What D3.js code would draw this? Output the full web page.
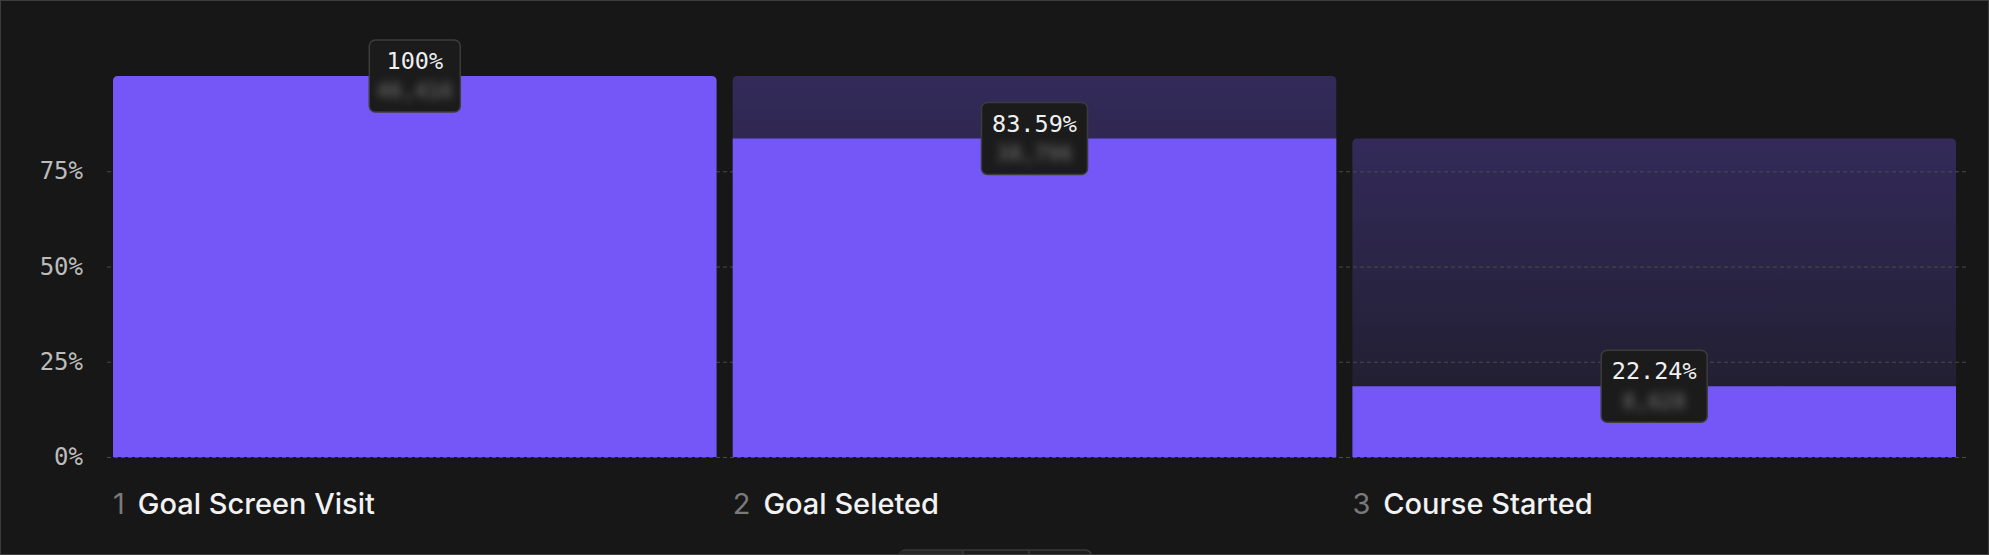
<!DOCTYPE html>
<html>
<head>
<meta charset="utf-8">
<script src="https://cdn.jsdelivr.net/npm/d3@7"></script>
<style>
  html, body { margin: 0; padding: 0; background: #171717; }
  svg { display: block; }
</style>
</head>
<body>
<div id="chart"></div>
<script>
var width = 1989;
var height = 555;

// funnel steps and step-to-step conversion (%)
var steps = ["Goal Screen Visit", "Goal Seleted", "Course Started"];
var stepRate = [100, 83.59, 22.24];
var counts = ["46,416", "38,796", "8,628"]; // blurred in the picture
var yTicks = [0, 25, 50, 75];

// overall share of the first step, drawn as bar height
var overall = [];
stepRate.forEach(function (r, i) {
  overall.push(i == 0 ? r : overall[i - 1] * r / 100);
});

var margin = {top: 76, right: 33, bottom: 98, left: 113};

var x = d3.scaleBand()
  .domain(steps)
  .range([margin.left, width - margin.right])
  .paddingInner(0.026);

var y = d3.scaleLinear()
  .domain([0, 100])
  .range([height - margin.bottom, margin.top]);

var svg = d3.select("#chart")
  .append("svg")
    .attr("width", width)
    .attr("height", height);

var defs = svg.append("defs");
var grad = defs.append("linearGradient")
  .attr("id", "bgGrad")
  .attr("x1", 0).attr("y1", 0).attr("x2", 0).attr("y2", 1);
grad.append("stop").attr("offset", "0%").attr("stop-color", "#7457f6").attr("stop-opacity", 0.3);
grad.append("stop").attr("offset", "100%").attr("stop-color", "#7457f6").attr("stop-opacity", 0.07);

defs.append("filter").attr("id", "blur")
  .attr("x", "-30%").attr("y", "-100%").attr("width", "160%").attr("height", "300%")
  .append("feGaussianBlur").attr("stdDeviation", 4.5);

// rect with rounded top corners only
function topRounded(x0, y0, w, h, r) {
  return "M" + x0 + "," + (y0 + h) +
    "V" + (y0 + r) +
    "Q" + x0 + "," + y0 + " " + (x0 + r) + "," + y0 +
    "H" + (x0 + w - r) +
    "Q" + (x0 + w) + "," + y0 + " " + (x0 + w) + "," + (y0 + r) +
    "V" + (y0 + h) + "Z";
}

// background of each step = level of previous step
svg.selectAll("path.bg")
  .data(steps.slice(1))
  .enter()
    .append("path")
      .attr("class", "bg")
      .attr("fill", "url(#bgGrad)")
      .attr("d", function (d, i) {
        var top = y(overall[i]);
        return topRounded(x(d), top, x.bandwidth(), y(0) - top, 5);
      });

// y axis
var yAxis = d3.axisLeft(y)
  .tickValues(yTicks)
  .tickSize(-(width - margin.left - margin.right + 16))
  .tickFormat(function (d) { return d + "%"; });

var gy = svg.append("g")
  .attr("transform", "translate(" + (margin.left - 6) + ",0)")
  .call(yAxis);
gy.select(".domain").remove();
gy.selectAll(".tick line")
  .attr("stroke", "#4a4a4a")
  .attr("stroke-dasharray", "4,3");
gy.selectAll(".tick text")
  .attr("fill", "#bcbcbc")
  .attr("x", -24)
  .style("font-family", "'DejaVu Sans Mono', monospace")
  .style("font-size", "24px");

// bars
svg.selectAll("path.bar")
  .data(steps)
  .enter()
    .append("path")
      .attr("class", "bar")
      .attr("fill", "#7457f6")
      .attr("d", function (d, i) {
        var top = y(overall[i]);
        return topRounded(x(d), top, x.bandwidth(), y(0) - top, i == 0 ? 5 : 0.01);
      });

// step labels
var labels = svg.selectAll("g.step")
  .data(steps)
  .enter()
    .append("g")
      .attr("class", "step")
      .attr("transform", function (d) { return "translate(" + x(d) + ",514)"; })
      .style("font-family", "Inter, sans-serif")
      .style("font-size", "29px")
      .style("font-weight", 500);
labels.append("text")
  .attr("class", "num")
  .attr("fill", "#7a7a7a")
  .style("font-weight", 400)
  .text(function (d, i) { return i + 1; });
labels.append("text")
  .attr("x", function () {
    return this.parentNode.querySelector(".num").getComputedTextLength() + 13;
  })
  .attr("fill", "#f2f2f2")
  .text(function (d) { return d; });

// value tips
var tips = svg.selectAll("g.tip")
  .data(steps)
  .enter()
    .append("g")
      .attr("class", "tip")
      .attr("transform", function (d, i) {
        return "translate(" + (x(d) + x.bandwidth() / 2) + "," + y(overall[i]) + ")";
      });

tips.append("rect")
  .attr("x", function (d, i) { return -(stepRate[i] == 100 ? 91 : 106) / 2; })
  .attr("y", -36)
  .attr("width", function (d, i) { return stepRate[i] == 100 ? 91 : 106; })
  .attr("height", 72)
  .attr("rx", 6)
  .attr("fill", "#1b1b1c")
  .attr("stroke", "#3c3c3e")
  .attr("stroke-width", 1.5);

tips.append("text")
  .attr("text-anchor", "middle")
  .attr("y", -15)
  .attr("dy", "0.35em")
  .attr("fill", "#f0f0f0")
  .style("font-family", "'DejaVu Sans Mono', monospace")
  .style("font-size", "23.5px")
  .text(function (d, i) { return stepRate[i] + "%"; });

tips.append("text")
  .attr("text-anchor", "middle")
  .attr("y", 15)
  .attr("dy", "0.35em")
  .attr("fill", "#5e5e5e")
  .attr("filter", "url(#blur)")
  .style("font-family", "'DejaVu Sans Mono', monospace")
  .style("font-size", "21px")
  .style("font-weight", "bold")
  .text(function (d, i) { return counts[i]; });

// segmented control peeking in at the bottom
var seg = svg.append("g").attr("transform", "translate(899,550)");
seg.append("rect")
  .attr("width", 193).attr("height", 30).attr("rx", 7)
  .attr("fill", "#1d1d1d").attr("stroke", "#3a3a3a").attr("stroke-width", 1.5);
seg.append("rect")
  .attr("x", 1).attr("y", 1).attr("width", 63).attr("height", 28)
  .attr("fill", "#262626");
seg.selectAll("line")
  .data([64, 130])
  .enter()
    .append("line")
      .attr("x1", function (d) { return d; }).attr("x2", function (d) { return d; })
      .attr("y1", 0).attr("y2", 30)
      .attr("stroke", "#3a3a3a").attr("stroke-width", 1.5);

// frame
svg.append("rect")
  .attr("x", 0.5).attr("y", 0.5)
  .attr("width", width - 1).attr("height", height - 1)
  .attr("fill", "none")
  .attr("stroke", "#3d3d3d");
</script>
</body>
</html>
